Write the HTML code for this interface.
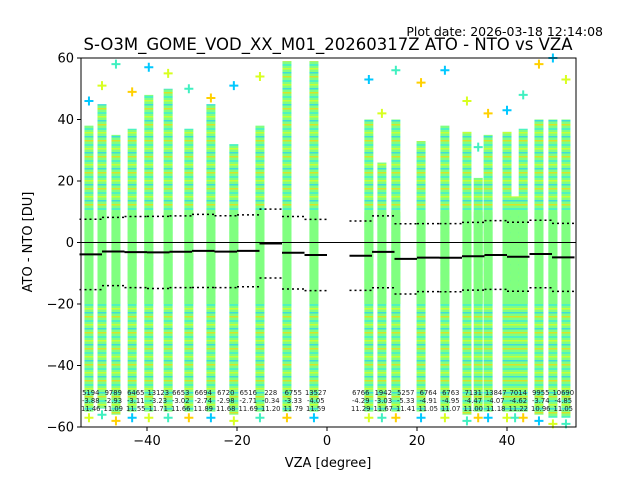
<!DOCTYPE html>
<html><head><meta charset="utf-8"><style>
body{margin:0;background:#fff;}
svg{font-family:"DejaVu Sans","Liberation Sans",sans-serif;}
</style></head><body>
<svg id="chart" width="640" height="480" viewBox="0 0 640 480">
<defs>
<pattern id="mix" width="9" height="16" patternUnits="userSpaceOnUse">
<rect width="9" height="16" fill="#80ff80"/>
<rect y="0" width="9" height="2" fill="#40f0d0" opacity="0.8"/>
<rect y="4" width="9" height="1.5" fill="#d8ff20" opacity="0.8"/>
<rect y="8" width="9" height="1.5" fill="#20d0ff" opacity="0.7"/>
<rect y="12" width="9" height="1.5" fill="#ffd800" opacity="0.7"/>
</pattern>
</defs>
<text x="603" y="36" font-size="12.5" text-anchor="end">Plot date: 2026-03-18 12:14:08</text>
<text x="328" y="50" font-size="16.5" text-anchor="middle">S-O3M_GOME_VOD_XX_M01_20260317Z ATO - NTO vs VZA</text>
<g id="plot"></g>
<rect x="81" y="58" width="495" height="369" fill="none" stroke="#000" stroke-width="1"/>
<text x="328" y="467" font-size="13" text-anchor="middle">VZA [degree]</text>
<text transform="translate(32,242) rotate(-90)" font-size="13" text-anchor="middle">ATO - NTO [DU]</text>
</svg>
<script>
const colVza=[-52.9,-50,-46.9,-43.3,-39.6,-35.3,-30.7,-25.8,-20.7,-14.9,-8.9,-2.9,9.3,12.2,15.3,20.9,26.2,31.1,33.6,35.8,40,41.8,43.6,47.1,50.2,53.1];
const colTop=[38,45,35,37,48,50,37,45,32,38,59,59,40,26,40,33,38,36,21,35,36,15,37,40,40,40];
const colOutlier=[46,51,58,49,57,55,50,47,51,54,59,59,53,42,56,52,56,46,31,42,43,15,48,58,60,53];
const colBottom=[-55,-54,-56,-55,-55,-55,-55,-55,-56,-55,-55,-55,-55,-55,-55,-55,-55,-56,-55,-55,-55,-55,-55,-56,-57,-57];
const binCenter=[-52.5,-47.5,-42.5,-37.5,-32.5,-27.5,-22.5,-17.5,-12.5,-7.5,-2.5,7.5,12.5,17.5,22.5,27.5,32.5,37.5,42.5,47.5,52.5];
const binCount=["5194","9789","6465","13123","6653","6694","6720","6516","228","6755","13527","6766","1942","5257","6764","6763","7131","13847","7014","9955","10690"];
const binMean=[-3.88,-2.93,-3.11,-3.23,-3.02,-2.74,-2.98,-2.71,-0.34,-3.33,-4.05,-4.29,-3.03,-5.33,-4.91,-4.95,-4.47,-4.07,-4.62,-3.74,-4.85];
const binStd=[11.46,11.09,11.55,11.71,11.66,11.89,11.68,11.69,11.20,11.79,11.59,11.29,11.67,11.41,11.05,11.07,11.00,11.18,11.22,10.96,11.05];
const xTicks=[-40,-20,0,20,40];
const yTicks=[60,40,20,0,-20,-40,-60];
const X=v=>327+v*4.5, Y=v=>242.5-v*3.075;
const NS="http://www.w3.org/2000/svg";
const g=document.getElementById('plot');
function mk(t,a){const e=document.createElementNS(NS,t);for(const k in a)e.setAttribute(k,a[k]);g.appendChild(e);return e;}
function plus(x,y,c){const p=mk('path',{d:`M${x-4.5} ${y}h9M${x} ${y-4.5}v9`,stroke:c,'stroke-width':2});

}
const cols=['#00c8ff','#d8ff20','#40f0c0','#ffd000'];
colVza.forEach((v,i)=>{
 const x=X(v)-4.5;
 const r=mk('rect',{x:x,y:Y(colTop[i]),width:9,height:Y(colBottom[i])-Y(colTop[i]),fill:'url(#mix)'});
 
 
 const gTop=Math.min(10,colTop[i]-4);
 const gr=mk('rect',{x:x,y:Y(gTop),width:9,height:Y(-20)-Y(gTop),fill:'#80ff80'});
 
 
 if(colOutlier[i]>colTop[i]) plus(X(v),Y(colOutlier[i]),cols[i%4]);
 plus(X(v),Y(colBottom[i]-2),cols[(i+1)%4]);
});
const z=mk('line',{x1:81,x2:576,y1:Y(0),y2:Y(0),stroke:'#000','stroke-width':1});


binCenter.forEach((c,i)=>{
 const x1=X(c-2.5),x2=X(c+2.5);
 const m=mk('line',{x1:x1,x2:x2,y1:Y(binMean[i]),y2:Y(binMean[i]),stroke:'#000','stroke-width':2});
 
 
 [1,-1].forEach(s=>{const d=mk('line',{x1:x1,x2:x2,y1:Y(binMean[i]+s*binStd[i]),y2:Y(binMean[i]+s*binStd[i]),stroke:'#000','stroke-width':1.5,'stroke-dasharray':'2 3'});
 
 });
 [binCount[i],binMean[i].toFixed(2),binStd[i].toFixed(2)].forEach((t,k)=>{
  const tx=mk('text',{x:X(c),y:395+k*8,'font-size':6.8,'text-anchor':'middle',fill:'#222'});
  tx.textContent=t;
  
  
 });
});
xTicks.forEach(t=>{
 const l=mk('line',{x1:X(t),x2:X(t),y1:427,y2:431,stroke:'#000'});
 
 
 const tx=mk('text',{x:X(t),y:445,'font-size':13,'text-anchor':'middle'});
 tx.textContent=t<0?'\u2212'+(-t):t;
 
 
});
yTicks.forEach(t=>{
 const l=mk('line',{x1:77,x2:81,y1:Y(t),y2:Y(t),stroke:'#000'});
 
 
 const tx=mk('text',{x:74,y:Y(t)+4.5,'font-size':13,'text-anchor':'end'});
 tx.textContent=t<0?'\u2212'+(-t):t;
 
 
});
</script>
</body></html>
